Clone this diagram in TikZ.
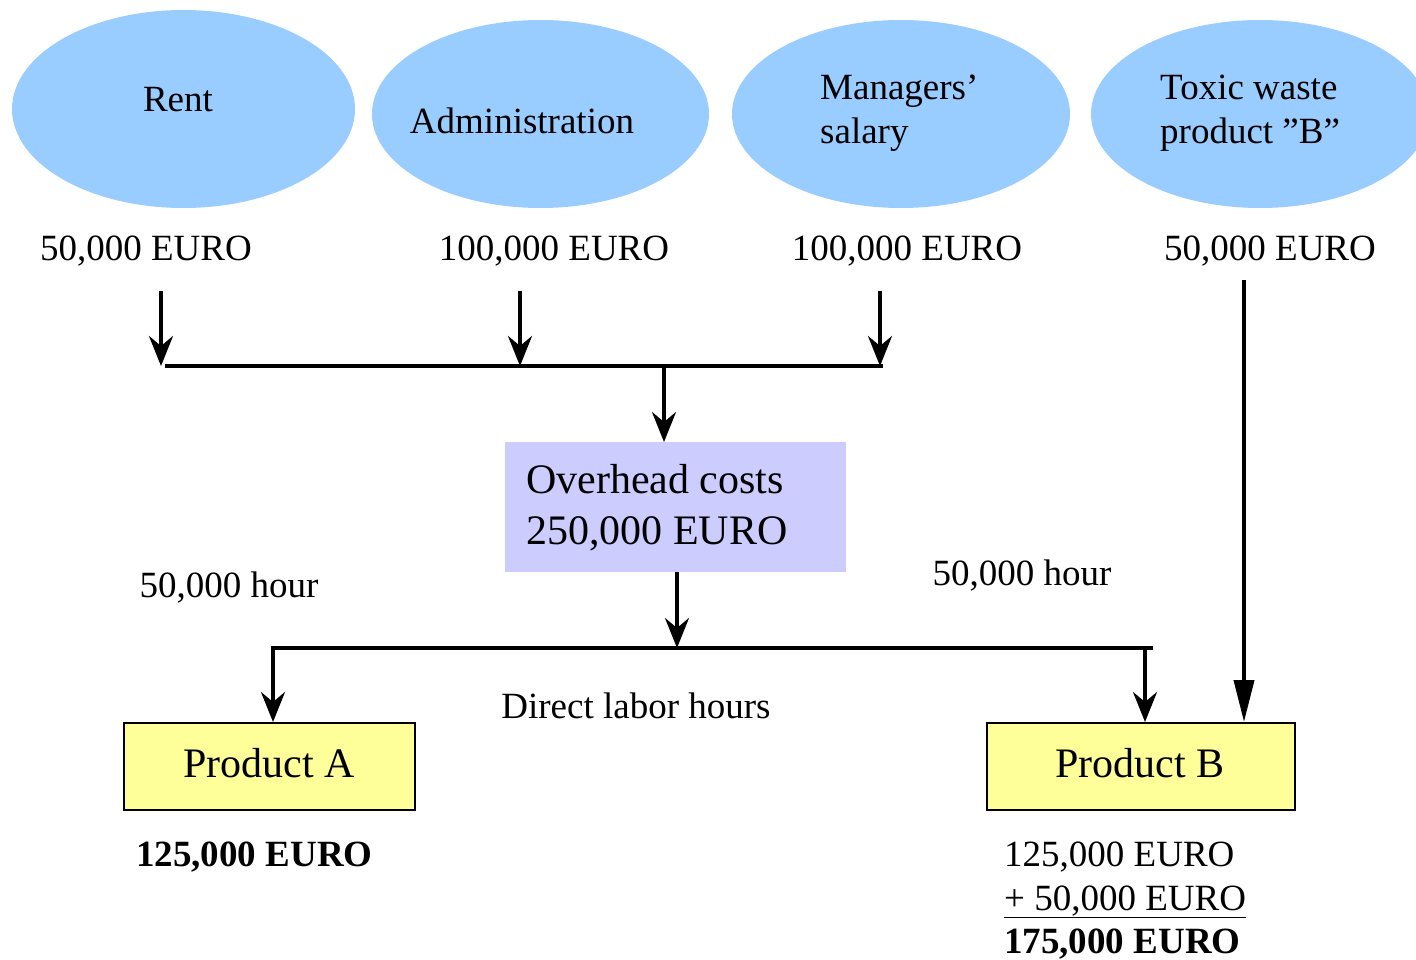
\documentclass[tikz,border=0pt]{standalone}
\usepackage{fontspec}
\setmainfont{Liberation Serif}
\usetikzlibrary{arrows.meta,shapes.geometric}
\definecolor{ellblue}{HTML}{99CCFF}
\definecolor{ovfill}{HTML}{CCCCFF}
\definecolor{prodfill}{HTML}{FFFF99}
\tikzset{
  ell/.style={ellipse, fill=ellblue, draw=none, inner sep=0pt},
  etxt/.style={inner sep=0pt, align=left, font=\fontsize{37}{44}\selectfont},
  amt/.style={inner sep=0pt, font=\fontsize{37}{44}\selectfont},
  arr/.style={line width=3.5pt, -{Stealth[length=30pt,width=24pt,inset=10pt]}},
  bigarr/.style={line width=4pt, -{Stealth[length=42pt,width=20pt,inset=0pt]}},
  bus/.style={line width=4.5pt},
  prod/.style={draw=black, line width=2pt, fill=prodfill, inner sep=0pt,
    minimum width=291pt, minimum height=87pt},
  ptxt/.style={inner sep=0pt, font=\fontsize{42}{48}\selectfont},
}
\begin{document}
\begin{tikzpicture}[x=1pt,y=-1pt]
\useasboundingbox (0,0) rectangle (1416,960);
\clip (0,0) rectangle (1416,960);

% ellipses
\node[ell, minimum width=343pt, minimum height=198pt] (rent) at (183.5,109) {};
\node[ell, minimum width=337pt, minimum height=188pt] (admin) at (540.5,114) {};
\node[ell, minimum width=338pt, minimum height=188pt] (mgr) at (901,114) {};
\node[ell, minimum width=338pt, minimum height=188pt] (toxic) at (1260,114) {};

\node[etxt] (rentT) at (178,100) {Rent};
\node[etxt] (adminT) at (522,121) {Administration};
\node[etxt, anchor=west] (mgrT) at (820,113) {Managers’\\salary};
\node[etxt, anchor=west] (toxicT) at (1160,113) {Toxic waste\\product ”B”};

% amounts
\node[amt] (rentA) at (146,251) {50,000 EURO};
\node[amt] (adminA) at (554,251) {100,000 EURO};
\node[amt] (mgrA) at (907,251) {100,000 EURO};
\node[amt] (toxicA) at (1270,251) {50,000 EURO};

% top bus
\coordinate (s1) at (161,291);
\coordinate (s2) at (520,291);
\coordinate (s3) at (880,291);
\coordinate (e1) at (161,366);
\coordinate (e2) at (520,366);
\coordinate (e3) at (880,366);
\coordinate (busL) at (165,366);
\coordinate (busR) at (883,366);
\coordinate (busM) at (664,366);
\draw[bus] (busL) -- (busR);
\draw[arr] (s1) -- (e1);
\draw[arr] (s2) -- (e2);
\draw[arr] (s3) -- (e3);

% overhead box
\node[fill=ovfill, inner sep=0pt, minimum width=341pt, minimum height=130pt] (ov) at (675.5,507) {};
\node[inner sep=0pt, anchor=west, align=left, font=\fontsize{42}{51}\selectfont] (ovT) at (526,508) {Overhead costs\\250,000 EURO};
\coordinate (ovTop) at (664,442);
\draw[arr] (busM) -- (ovTop);

% lower bus
\coordinate (ovBot) at (677,572);
\coordinate (lbusM) at (677,648);
\coordinate (lbusL) at (271,648);
\coordinate (lbusR) at (1153,648);
\coordinate (la) at (273,648);
\coordinate (lb) at (1145,648);
\draw[bus] (lbusL) -- (lbusR);
\draw[arr] (ovBot) -- (lbusM);

% products
\node[prod] (pa) at (269.5,766.5) {};
\node[prod, minimum width=308pt] (pb) at (1141,766.5) {};
\node[ptxt] (paT) at (269,763) {Product A};
\node[ptxt] (pbT) at (1140,763) {Product B};
\draw[arr] (la) -- (la |- pa.north);
\draw[arr] (lb) -- (lb |- pb.north);
\coordinate (tx) at (1244,280);
\draw[bigarr] (tx) -- (tx |- pb.north);

% labels
\node[amt] (hA) at (229,588) {50,000 hour};
\node[amt] (hB) at (1022,576) {50,000 hour};
\node[amt] (dlh) at (636,706) {Direct labor hours};
\node[amt, anchor=west, font=\fontsize{37}{44}\selectfont\bfseries] (totA) at (136,857) {125,000 EURO};
\node[amt, anchor=north west, align=left, font=\fontsize{37}{43.5}\selectfont] (totB) at (1004,842) {125,000 EURO\\\underline{+ 50,000 EURO}\\\textbf{175,000 EURO}};
\end{tikzpicture}
\end{document}
